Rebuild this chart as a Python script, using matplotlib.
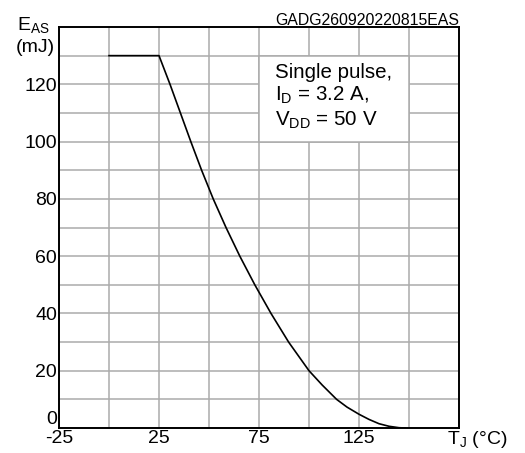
import matplotlib
matplotlib.use("Agg")
import matplotlib.pyplot as plt
from matplotlib.patches import Rectangle

plt.rcParams['font.family'] = ['Liberation Sans', 'DejaVu Sans']
plt.rcParams['mathtext.fontset'] = 'custom'
plt.rcParams['mathtext.rm'] = 'Liberation Sans'
plt.rcParams['mathtext.it'] = 'Liberation Sans'

# Data
tj = [0, 25, 30.5, 35.7, 40.9, 46.3, 52.1, 58.5, 65.4, 72.9, 81, 89.8, 100,
      106.6, 113.8, 119, 125, 130, 135, 140, 145, 148]
eas = [130, 130, 120, 110, 100, 90, 80, 70, 60, 50, 40, 30, 20,
       15, 10, 7.3, 4.8, 3, 1.5, 0.6, 0.1, 0]

x_major = [-25, 25, 75, 125]
x_minor = [0, 50, 100, 150]
y_major = [0, 20, 40, 60, 80, 100, 120]
y_minor = [10, 30, 50, 70, 90, 110, 130]

fig = plt.figure(figsize=(5.25, 4.53), dpi=100)
ax = fig.add_axes([59/525, 1-428/453, 400/525, 401/453])
ax.set_xlim(-25, 175)
ax.set_ylim(0, 140)
ax.set_xticks(x_major)
ax.set_xticks(x_minor, minor=True)
ax.set_yticks(y_major)
ax.set_yticks(y_minor, minor=True)
ax.set_xticklabels([str(v) for v in x_major])
ax.set_yticklabels([str(v) for v in y_major])
ax.tick_params(which='both', length=0, labelsize=14, pad=1.5)
ax.set_axisbelow(True)
gridc = '#ababab'
ax.grid(True, which='both', color=gridc, linewidth=1.1)
for s in ax.spines.values():
    s.set_linewidth(1.4)
    s.set_color('black')
ax.get_yticklabels()[0].set_va('bottom')

ax.add_patch(Rectangle((75, 100), 75, 30, facecolor='white', edgecolor=gridc,
                       linewidth=1.1, zorder=1))
ax.plot(tj, eas, color='black', linewidth=1.2, zorder=3)

ax.text(83, 127.6, "Single pulse,\n"
        r"I$_{\mathregular{D}}$ = 3.2 A," "\n"
        r"V$_{\mathregular{DD}}$ = 50 V",
        fontsize=14.8, va='top', ha='left', linespacing=1.22, zorder=4)

ax.text(1.0, 1.004, "GADG260920220815EAS", transform=ax.transAxes,
        ha='right', va='baseline', fontsize=11.4)
ax.text(-0.105, 0.993, r"E$_{\mathregular{AS}}$", transform=ax.transAxes,
        ha='left', va='baseline', fontsize=14)
ax.text(-0.01, 0.937, "(mJ)", transform=ax.transAxes,
        ha='right', va='baseline', fontsize=14)
ax.text(0.97, -0.04, r"T$_{\mathregular{J}}$ (°C)", transform=ax.transAxes,
        ha='left', va='baseline', fontsize=14)

fig.savefig("out.png", dpi=100)
